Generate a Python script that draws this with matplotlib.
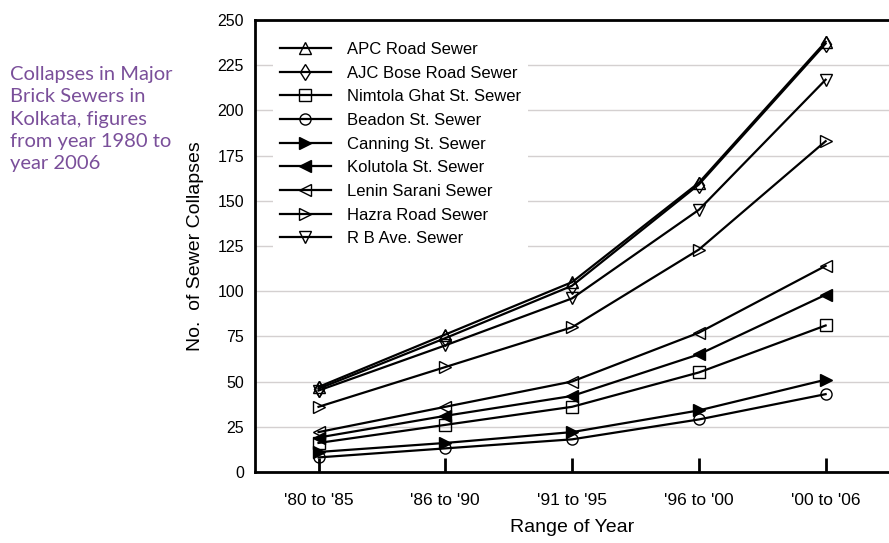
import matplotlib
matplotlib.use('Agg')
import matplotlib.pyplot as plt
import numpy as np

periods = ["'80 to '85", "'86 to '90", "'91 to '95", "'96 to '00", "'00 to '06"]

apc = [47, 76, 105, 160, 238]
ajc = [46, 74, 103, 159, 237]
nimtola = [16, 26, 36, 55, 81]
beadon = [8, 13, 18, 29, 43]
canning = [11, 16, 22, 34, 51]
kolutola = [19, 31, 42, 65, 98]
lenin = [22, 36, 50, 77, 114]
hazra = [36, 58, 80, 123, 183]
rb_ave = [45, 70, 96, 145, 217]

series = [
    ('APC Road Sewer', apc, '^', 'none'),
    ('AJC Bose Road Sewer', ajc, 'd', 'none'),
    ('Nimtola Ghat St. Sewer', nimtola, 's', 'none'),
    ('Beadon St. Sewer', beadon, 'o', 'none'),
    ('Canning St. Sewer', canning, '>', 'black'),
    ('Kolutola St. Sewer', kolutola, '<', 'black'),
    ('Lenin Sarani Sewer', lenin, '<', 'none'),
    ('Hazra Road Sewer', hazra, '>', 'none'),
    ('R B Ave. Sewer', rb_ave, 'v', 'none'),
]

plt.rcParams['font.family'] = ['Liberation Sans', 'DejaVu Sans']

fig = plt.figure(figsize=(8.89, 5.43), dpi=100)
ax = fig.add_axes([0.287, 0.131, 0.713, 0.832])

x = np.arange(len(periods))
for name, vals, mk, fc in series:
    ax.plot(x, vals, color='black', lw=1.6, marker=mk, markersize=8,
            markerfacecolor=fc, markeredgecolor='black', markeredgewidth=1.0,
            label=name)

ax.set_xlim(-0.5, 4.5)
ax.set_ylim(0, 250)
ax.set_yticks(np.arange(0, 251, 25))
ax.set_xticks(x)
ax.set_xticklabels(periods)
ax.yaxis.grid(True, color='#d4d0d0', lw=1)
ax.set_axisbelow(True)

for s in ['left', 'bottom', 'top']:
    ax.spines[s].set_linewidth(2)
ax.spines['right'].set_visible(False)
ax.tick_params(axis='x', direction='in', length=10, width=2, pad=15, labelsize=12.5)
ax.tick_params(axis='y', length=0, pad=8, labelsize=11.5)

ax.set_xlabel('Range of Year', fontsize=14, labelpad=8)
ax.set_ylabel('No.  of Sewer Collapses', fontsize=14, labelpad=10)

leg = ax.legend(loc='upper left', bbox_to_anchor=(0.015, 0.985), frameon=True,
                fontsize=12, handlelength=3.1, handletextpad=0.95,
                labelspacing=0.52, numpoints=1)
leg.get_frame().set_edgecolor('none')
leg.get_frame().set_facecolor('white')
leg.get_frame().set_alpha(1)

fig.text(0.011, 0.878, 'Collapses in Major\nBrick Sewers in\nKolkata, figures\nfrom year 1980 to\nyear 2006',
         color='#7a4f9a', fontsize=14.5, family=['Lato', 'DejaVu Sans'],
         va='top', ha='left', linespacing=1.37)

fig.savefig('out.png', dpi=100)
